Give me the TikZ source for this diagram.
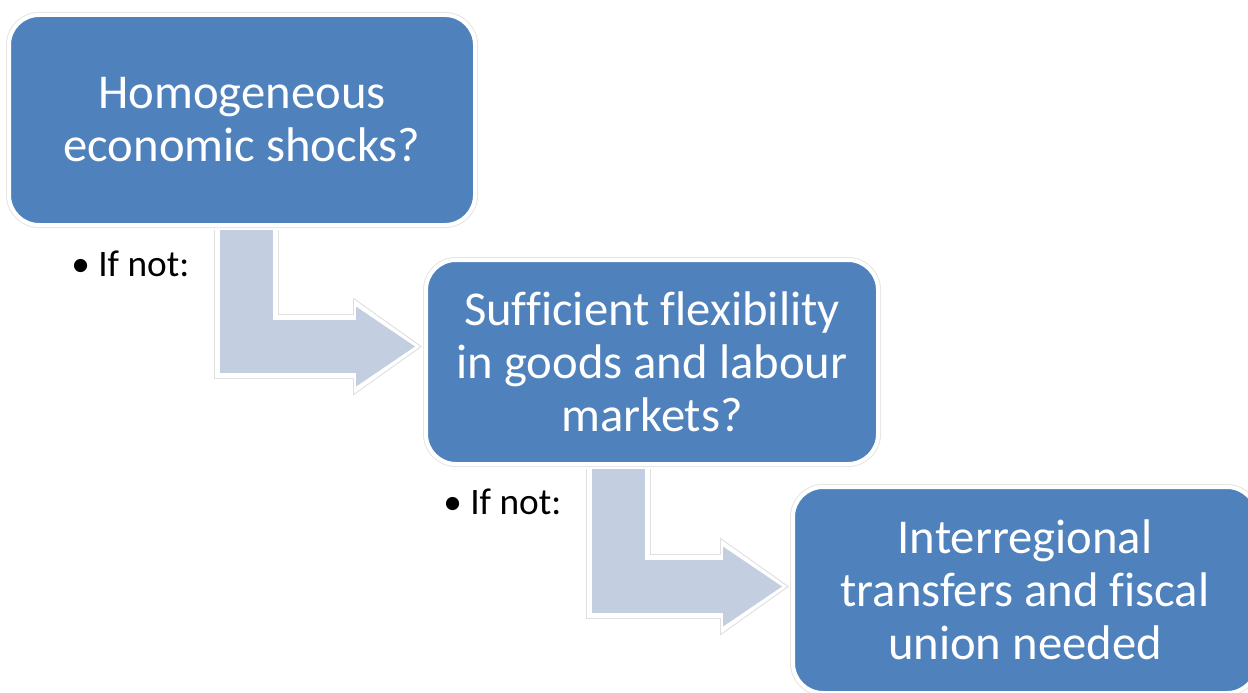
\documentclass[tikz,border=0pt]{standalone}
\usepackage{fontspec}
\setmainfont[Ligatures=CommonOff]{Carlito}
\usetikzlibrary{arrows.meta}
\definecolor{boxblue}{HTML}{4F81BD}
\definecolor{arrowfill}{HTML}{C4CEE1}
\tikzset{
    stepbox/.style={rectangle, rounded corners=22.5pt, fill=boxblue, draw=white, line width=3pt,
        preaction={draw=black!10, line width=4.5pt}, text=white, align=center,
        font=\fontsize{36.5pt}{39.75pt}\selectfont}, % blue question boxes
    ifnot/.style={anchor=base west, inner sep=0pt, font=\fontsize{28pt}{30pt}\selectfont}, % small notes
    flowarrow/.style={draw=arrowfill, line width=39.75pt, shorten <=2pt, shorten >=6.75pt,
        -{Triangle[length=44.25pt, width=60pt, line width=0pt]},
        preaction={draw=black!12, line width=48.75pt, shorten >=1.5pt,
            -{Triangle[length=51.75pt, width=73.5pt, line width=0pt]}},
        preaction={draw=white, line width=47.25pt, shorten >=3pt,
            -{Triangle[length=49.5pt, width=70.5pt, line width=0pt]}}}
}

\begin{document}
\begin{tikzpicture}[x=0.75pt, y=-0.75pt]
    \clip (0,0) rectangle (1248,692);

    \node[stepbox, minimum width=349.5pt, minimum height=157.5pt] (shocks) at (242,120)
        {Homogeneous\\economic shocks?};
    \node[stepbox, minimum width=339pt, minimum height=153pt] (flex) at (652,362)
        {Sufficient flexibility\\in goods and labour\\markets?};
    \node[stepbox, minimum width=348pt, minimum height=154.5pt] (fiscal) at (1025,590)
        {Interregional\\transfers and fiscal\\union needed};

    \draw[flowarrow] ([xshift=3.4pt]shocks.south) |- ([yshift=11.6pt]flex.west);
    \draw[flowarrow] ([xshift=-25.1pt]flex.south) |- ([yshift=2.6pt]fiscal.west);

    \node[ifnot] (note1) at (71,276) {• If not:};
    \node[ifnot] (note2) at (443,514) {• If not:};
\end{tikzpicture}
\end{document}
